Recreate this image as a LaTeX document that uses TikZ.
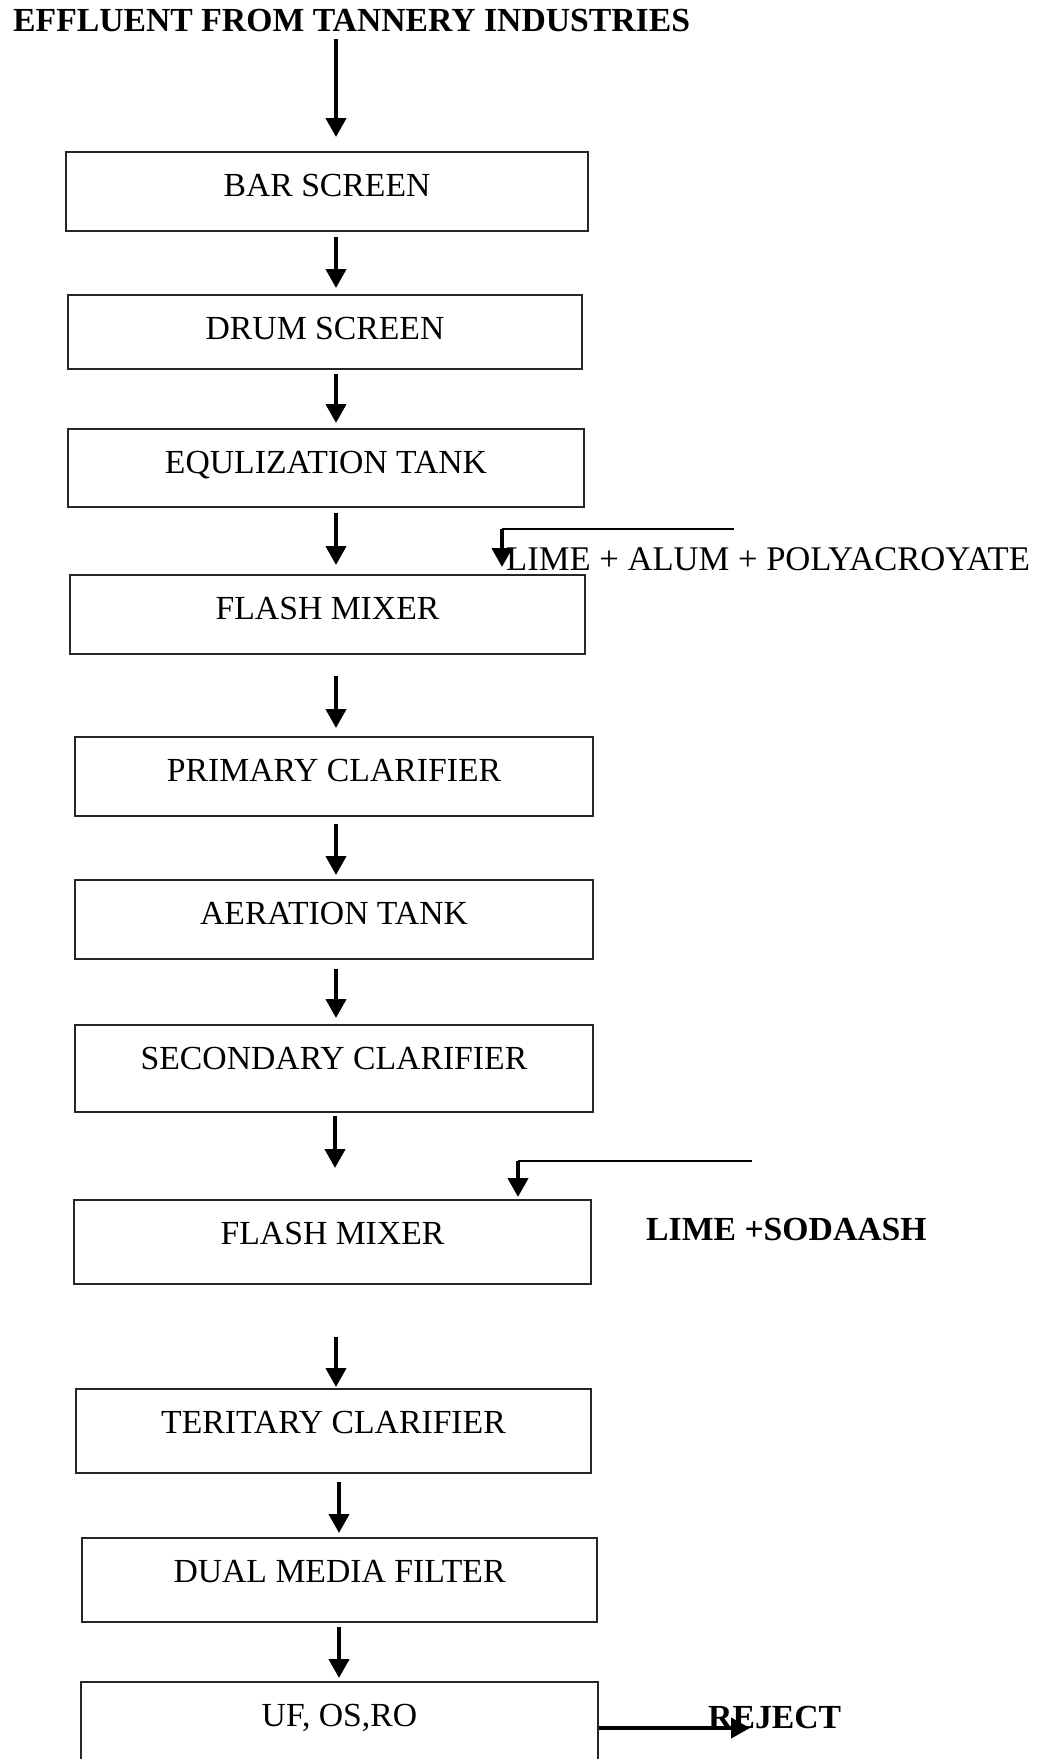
\documentclass[tikz,border=0pt]{standalone}
\usepackage{fontspec}
\setmainfont{Liberation Serif}
\usetikzlibrary{arrows.meta}
\begin{document}
\begin{tikzpicture}[x=1pt,y=-1pt,
  txt/.style={font=\fontsize{34.6}{40}\selectfont, inner sep=0pt},
  btxt/.style={font=\fontsize{33.7}{40}\selectfont\bfseries, inner sep=0pt},
  procbox/.style={draw=black!85, line width=2pt, inner sep=0pt, anchor=north,
    text height=44pt, font=\fontsize{33.7}{40}\selectfont},
  flow/.style={draw=black, line width=4.2pt, -{Triangle[width=20pt,length=19pt]}},
  feedline/.style={draw=black, line width=2pt}]
\clip (0,0) rectangle (1037,1759);
\fill[white] (0,0) rectangle (1037,1759);
% title
\node[btxt, anchor=base west] (title) at (13,31) {EFFLUENT FROM TANNERY INDUSTRIES};
% boxes
\node[procbox, minimum width=522pt, text depth=35pt] (b1) at (327,151) {BAR SCREEN};
\node[procbox, minimum width=514pt, text depth=30pt] (b2) at (325,294) {DRUM SCREEN};
\node[procbox, minimum width=516pt, text depth=34pt] (b3) at (326,428) {EQULIZATION TANK};
\node[procbox, minimum width=515pt, text depth=35pt] (b4) at (327.5,574) {FLASH MIXER};
\node[procbox, minimum width=518pt, text depth=35pt] (b5) at (334,736) {PRIMARY CLARIFIER};
\node[procbox, minimum width=518pt, text depth=35pt] (b6) at (334,879) {AERATION TANK};
\node[procbox, minimum width=518pt, text depth=43pt] (b7) at (334,1024) {SECONDARY CLARIFIER};
\node[procbox, minimum width=517pt, text depth=40pt] (b8) at (332.5,1199) {FLASH MIXER};
\node[procbox, minimum width=515pt, text depth=40pt] (b9) at (333.5,1388) {TERITARY CLARIFIER};
\node[procbox, minimum width=515pt, text depth=40pt] (b10) at (339.5,1537) {DUAL MEDIA FILTER};
\node[procbox, minimum width=517pt, text depth=75pt] (b11) at (339.5,1681) {UF, OS,RO};
% side labels
\node[txt, anchor=base west] (add1) at (506,570) {LIME + ALUM + POLYACROYATE};
\node[btxt, anchor=base west] (add2) at (646,1240) {LIME +SODAASH};
% reference x positions for the flow arrows
\coordinate (ax) at (336,0);
\coordinate (axb) at (335,0);
\coordinate (axc) at (339,0);
% main flow
\draw[flow, shorten <=7pt, shorten >=14pt] (title.south -| ax) -- (b1.north -| ax);
\draw[flow, shorten <=5pt, shorten >=6pt] (b1.south -| ax) -- (b2.north -| ax);
\draw[flow, shorten <=4pt, shorten >=5pt] (b2.south -| ax) -- (b3.north -| ax);
\draw[flow, shorten <=5pt, shorten >=9pt] (b3.south -| ax) -- (b4.north -| ax);
\draw[flow, shorten <=21pt, shorten >=8pt] (b4.south -| ax) -- (b5.north -| ax);
\draw[flow, shorten <=7pt, shorten >=4pt] (b5.south -| ax) -- (b6.north -| ax);
\draw[flow, shorten <=9pt, shorten >=6pt] (b6.south -| ax) -- (b7.north -| ax);
\draw[flow, shorten <=3pt, shorten >=31pt] (b7.south -| axb) -- (b8.north -| axb);
\draw[flow, shorten <=52pt, shorten >=1pt] (b8.south -| ax) -- (b9.north -| ax);
\draw[flow, shorten <=8pt, shorten >=4pt] (b9.south -| axc) -- (b10.north -| axc);
\draw[flow, shorten <=4pt, shorten >=3pt] (b10.south -| axc) -- (b11.north -| axc);
% chemical dosing lines
\coordinate (s1) at (734,529);
\coordinate (c1) at (502,529);
\draw[feedline] (s1) -- (c1);
\draw[flow, shorten >=7pt] (c1) -- (c1 |- b4.north);
\coordinate (s2) at (752,1161);
\coordinate (c2) at (518,1161);
\draw[feedline] (s2) -- (c2);
\draw[flow, shorten >=2pt] (c2) -- (c2 |- b8.north);
% reject
\node[btxt, anchor=base west] (rej) at (708,1728) {REJECT};
\coordinate (rt) at (750,1728);
\draw[flow] (b11.east |- rt) -- (rt);
\end{tikzpicture}
\end{document}
